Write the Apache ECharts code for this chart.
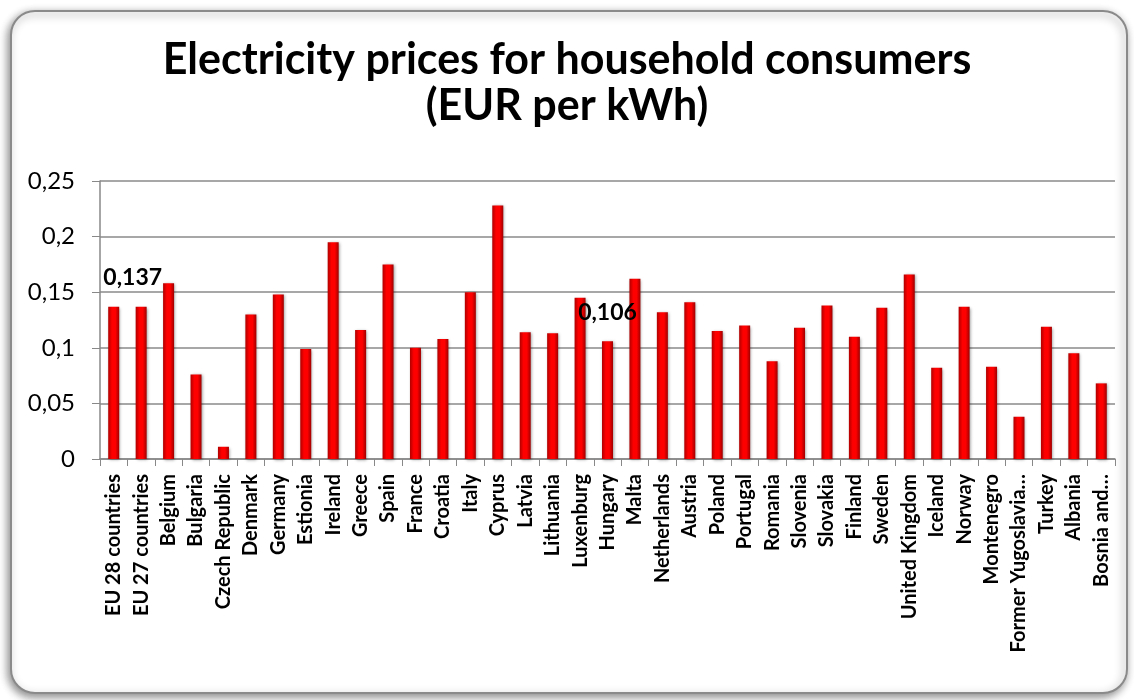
<!DOCTYPE html>
<html>
<head>
<meta charset="utf-8">
<script src="https://cdn.jsdelivr.net/npm/echarts@6/dist/echarts.min.js"></script>
<style>
html,body{margin:0;padding:0;background:#fff;}
#chart{width:1134px;height:700px;}
</style>
</head>
<body>
<div id="chart"></div>
<script>
var countries=["EU 28 countries","EU 27 countries","Belgium","Bulgaria","Czech Republic","Denmark","Germany","Estionia","Ireland","Greece","Spain","France","Croatia","Italy","Cyprus","Latvia","Lithuania","Luxenburg","Hungary","Malta","Netherlands","Austria","Poland","Portugal","Romania","Slovenia","Slovakia","Finland","Sweden","United Kingdom","Iceland","Norway","Montenegro","Former Yugoslavia…","Turkey","Albania","Bosnia and…"];
var prices=[0.137,0.137,0.158,0.076,0.011,0.130,0.148,0.099,0.195,0.116,0.175,0.100,0.108,0.150,0.228,0.114,0.113,0.145,0.106,0.162,0.132,0.141,0.115,0.120,0.088,0.118,0.138,0.110,0.136,0.166,0.082,0.137,0.083,0.038,0.119,0.095,0.068];
var yTicks=[0,0.05,0.1,0.15,0.2,0.25];
// only these two bars carry a value label
var labelled=[0,18];

var font='Lato, "Open Sans", sans-serif';
var barColor=new echarts.graphic.LinearGradient(0,0,1,0,[
	{offset:0,color:'#b00000'},
	{offset:0.35,color:'#ff0000'},
	{offset:0.65,color:'#ff0000'},
	{offset:1,color:'#a00000'}
]);

var data=[];
for(var i=0;i<prices.length;i++){
	var item={value:prices[i]};
	if(labelled.indexOf(i)>=0){
		item.label={
			show:true,
			position:'top',
			offset:i==0?[19,-13]:[0,-12],
			formatter:function(p){return String(p.value).replace('.',',');},
			fontFamily:font,fontWeight:'bold',fontSize:23,color:'#000'
		};
	}
	data.push(item);
}

var myChart=echarts.init(document.getElementById('chart'));
var option={
	backgroundColor:'#fff',
	animation:false,
	graphic:[{
		type:'rect',
		shape:{x:11,y:11,width:1116,height:682,r:24},
		style:{fill:'#fff',stroke:'#8a8a8a',lineWidth:2,shadowBlur:8,shadowOffsetX:-2,shadowOffsetY:3,shadowColor:'rgba(0,0,0,0.45)'},
		z:-10
	}],
	title:{
		text:'Electricity prices for household consumers\n(EUR per kWh)',
		left:'center',
		top:32,
		textStyle:{fontFamily:font,fontWeight:'bold',fontSize:43,color:'#000',lineHeight:46}
	},
	grid:{left:100,right:19,top:181,bottom:241},
	xAxis:{
		type:'category',
		data:countries,
		axisLine:{lineStyle:{color:'#888',width:1.5}},
		axisTick:{show:true,length:7,lineStyle:{color:'#888'}},
		axisLabel:{interval:0,rotate:90,fontFamily:font,fontWeight:'bold',fontSize:20,color:'#000',margin:15}
	},
	yAxis:{
		type:'value',
		min:yTicks[0],
		max:yTicks[yTicks.length-1],
		interval:0.05,
		axisLine:{show:true,lineStyle:{color:'#888',width:1.5}},
		axisTick:{show:true,length:8,lineStyle:{color:'#888'}},
		splitLine:{lineStyle:{color:'#8a8a8a',width:1.5}},
		axisLabel:{
			fontFamily:font,fontSize:24,color:'#000',margin:25,
			formatter:function(v){return String(+v.toFixed(2)).replace('.',',');}
		}
	},
	series:[{
		type:'bar',
		barWidth:11,
		data:data,
		itemStyle:{color:barColor,shadowBlur:3,shadowOffsetX:1,shadowOffsetY:1,shadowColor:'rgba(0,0,0,0.4)'}
	}]
};
myChart.setOption(option);
</script>
</body>
</html>
